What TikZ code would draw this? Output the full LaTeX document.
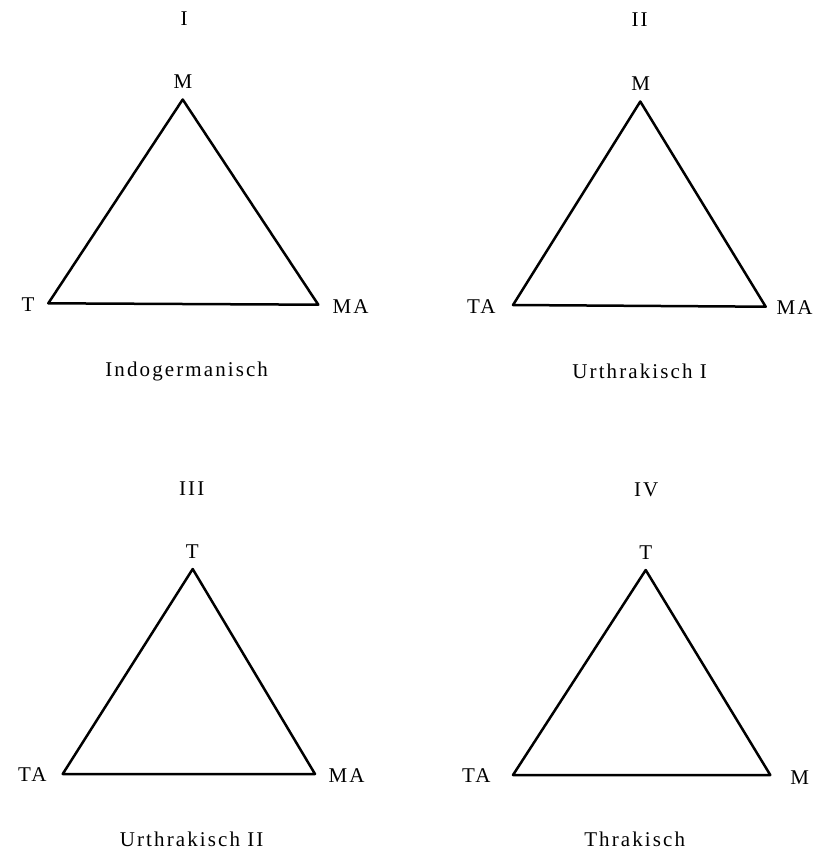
\documentclass[tikz,border=0pt]{standalone}
\usepackage{fontspec}
\setmainfont{Liberation Serif}[LetterSpace=10]
\begin{document}
\begin{tikzpicture}[x=1pt,y=-1pt,
  tri/.style={draw=black,line width=2.5pt,line join=round},
  lab/.style={anchor=base,inner sep=0pt,font=\fontsize{21}{25}\selectfont}]
\useasboundingbox (0,0) rectangle (826,849);
% I
\coordinate (a1) at (182.7,99.5);
\coordinate (b1) at (48.3,303.3);
\coordinate (c1) at (318.3,304.7);
\draw[tri] (a1) -- (b1) -- (c1) -- cycle;
\node[lab] (n1) at (184,25) {I};
\node[lab] (a1l) at (183,88.3) {M};
\node[lab] (b1l) at (28,311.5) {T};
\node[lab] (c1l) at (350.7,313.3) {MA};
\node[lab] (t1) at (186.7,376) {Indogermanisch};
% II
\coordinate (a2) at (640.3,101.5);
\coordinate (b2) at (513,305);
\coordinate (c2) at (765.7,306.7);
\draw[tri] (a2) -- (b2) -- (c2) -- cycle;
\node[lab] (n2) at (639.7,26.7) {II};
\node[lab] (a2l) at (640.7,90.7) {M};
\node[lab] (b2l) at (481.3,313.3) {TA};
\node[lab] (c2l) at (794.7,314) {MA};
\node[lab] (t2) at (639.7,378.3) {Urthrakisch I};
% III
\coordinate (a3) at (192.7,569);
\coordinate (b3) at (62.7,774);
\coordinate (c3) at (315,774);
\draw[tri] (a3) -- (b3) -- (c3) -- cycle;
\node[lab] (n3) at (191.7,495) {III};
\node[lab] (a3l) at (192.3,558.3) {T};
\node[lab] (b3l) at (32.3,781.7) {TA};
\node[lab] (c3l) at (346.7,782.7) {MA};
\node[lab] (t3) at (191.7,846) {Urthrakisch II};
% IV
\coordinate (a4) at (645.7,570);
\coordinate (b4) at (513,775);
\coordinate (c4) at (770.3,775);
\draw[tri] (a4) -- (b4) -- (c4) -- cycle;
\node[lab] (n4) at (646.3,496) {IV};
\node[lab] (a4l) at (645.7,559.3) {T};
\node[lab] (b4l) at (476.3,782.7) {TA};
\node[lab] (c4l) at (799.7,784) {M};
\node[lab] (t4) at (634.7,846) {Thrakisch};
\end{tikzpicture}
\end{document}
